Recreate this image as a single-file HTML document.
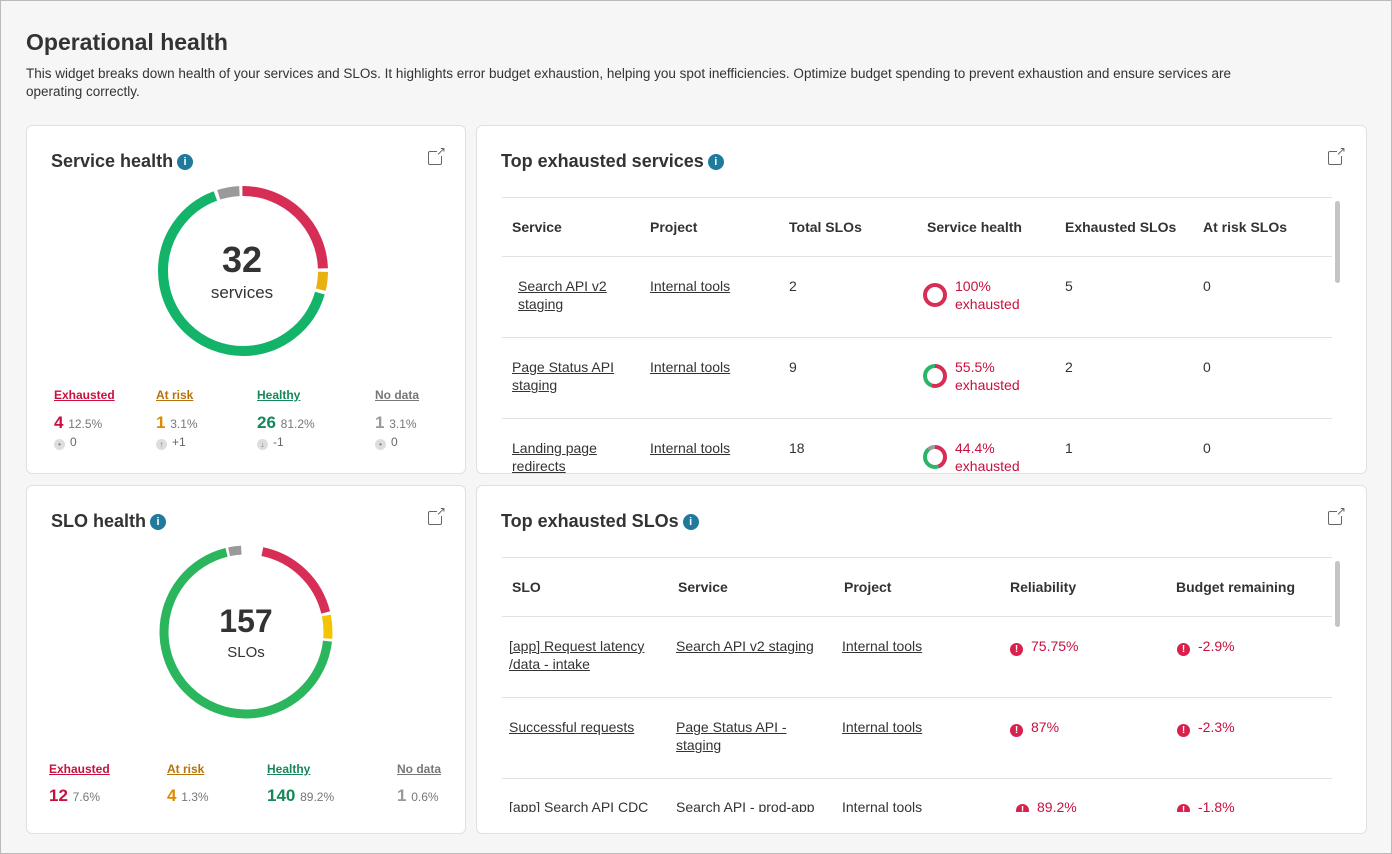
<!DOCTYPE html>
<html><head><style>
*{box-sizing:border-box;margin:0;padding:0}
body{width:1392px;height:854px;background:#f6f6f6;font-family:"Liberation Sans",sans-serif;color:#333;position:relative;overflow:hidden}
.frame{position:absolute;left:0;top:0;width:1392px;height:854px;border:1px solid #bbb;pointer-events:none}
.abs{position:absolute}
h1{position:absolute;left:26px;top:29px;font-size:23px;font-weight:bold;color:#333}
.desc{position:absolute;left:26px;top:65px;width:1350px;font-size:13.5px;line-height:18px;color:#333}
.card{position:absolute;background:#fff;border:1px solid #e0e0e0;border-radius:6px;overflow:hidden}
.title{position:absolute;font-size:18px;font-weight:bold;color:#333;white-space:nowrap}
.info{display:inline-block;width:16px;height:16px;border-radius:50%;background:#1f7a9c;color:#fff;font-size:11px;text-align:center;line-height:16px;vertical-align:2px;margin-left:4px;font-weight:bold}
.ext{position:absolute;width:14px;height:14px;border:1.5px solid #666;border-radius:2px}
.ext:after{content:"";position:absolute;right:-4px;top:-4px;width:8px;height:8px;background:#fff}
.ext:before{content:"↗";position:absolute;right:-5px;top:-8px;font-size:12px;color:#666;z-index:2}
.lg{position:absolute;font-size:12px;text-decoration:underline;font-weight:bold}
.lv{position:absolute;font-size:17px;font-weight:bold;white-space:nowrap}
.lv small{font-size:12px;color:#777;font-weight:normal}
.lc{position:absolute;font-size:12px;color:#666}
.lc i{display:inline-block;width:11px;height:11px;border-radius:50%;background:#ddd;vertical-align:-1px;margin-right:5px;font-style:normal;font-size:8px;text-align:center;line-height:11px;color:#777}
.hl{position:absolute;height:1px;background:#e2e2e2}
.th{position:absolute;font-size:14px;font-weight:bold;color:#333}
.td{position:absolute;font-size:14px;line-height:18px;color:#333}
.u{text-decoration:underline}
.red{color:#c8103e}
.ex{display:inline-block;width:13px;height:13px;border-radius:50%;background:#d9214e;color:#fff;font-size:10px;font-weight:bold;text-align:center;line-height:13px;margin-right:8px;vertical-align:-1px}
.sb{position:absolute;width:5px;background:#c4c4c4;border-radius:3px}
</style></head><body>
<div class="frame"></div>
<h1>Operational health</h1>
<div class="desc">This widget breaks down health of your services and SLOs. It highlights error budget exhaustion, helping you spot inefficiencies. Optimize budget spending to prevent exhaustion and ensure services are<br>operating correctly.</div>

<!-- Card 1 -->
<div class="card" style="left:26px;top:125px;width:440px;height:349px">
 <div class="title" style="left:24px;top:25px">Service health<span class="info">i</span></div>
 <div class="ext" style="left:401px;top:25px"></div>
 <svg class="abs" style="left:0;top:0" width="440" height="349">
  <g transform="translate(216,145) rotate(-90)">
   <circle r="80" fill="none" stroke="#d62e55" stroke-width="10" pathLength="100" stroke-dasharray="24.5 75.5" stroke-dashoffset="0"/>
   <circle r="80" fill="none" stroke="#e9b10e" stroke-width="10" pathLength="100" stroke-dasharray="3.6 96.4" stroke-dashoffset="-25.2"/>
   <circle r="80" fill="none" stroke="#13b36a" stroke-width="10" pathLength="100" stroke-dasharray="65 35" stroke-dashoffset="-29.5"/>
   <circle r="80" fill="none" stroke="#9a9a9a" stroke-width="10" pathLength="100" stroke-dasharray="4.2 95.8" stroke-dashoffset="-95.2"/>
  </g>
  <text x="215" y="146" text-anchor="middle" font-family="Liberation Sans" font-weight="bold" font-size="36" fill="#333">32</text>
  <text x="215" y="172" text-anchor="middle" font-family="Liberation Sans" font-size="17" fill="#333">services</text>
 </svg>
 <div class="lg" style="left:27px;top:262px;color:#c8103e">Exhausted</div>
 <div class="lg" style="left:129px;top:262px;color:#b5730a">At risk</div>
 <div class="lg" style="left:230px;top:262px;color:#17865a">Healthy</div>
 <div class="lg" style="left:348px;top:262px;color:#777">No data</div>
 <div class="lv" style="left:27px;top:287px;color:#c8103e">4 <small>12.5%</small></div>
 <div class="lv" style="left:129px;top:287px;color:#e08a00">1 <small>3.1%</small></div>
 <div class="lv" style="left:230px;top:287px;color:#17865a">26 <small>81.2%</small></div>
 <div class="lv" style="left:348px;top:287px;color:#999">1 <small>3.1%</small></div>
 <div class="lc" style="left:27px;top:309px"><i>•</i>0</div>
 <div class="lc" style="left:129px;top:309px"><i>↑</i>+1</div>
 <div class="lc" style="left:230px;top:309px"><i>↓</i>-1</div>
 <div class="lc" style="left:348px;top:309px"><i>•</i>0</div>
</div>

<!-- Card 2 -->
<div class="card" style="left:476px;top:125px;width:891px;height:349px">
 <div class="title" style="left:24px;top:25px">Top exhausted services<span class="info">i</span></div>
 <div class="ext" style="left:851px;top:25px"></div>
 <div class="hl" style="left:25px;top:71px;width:830px"></div>
 <div class="th" style="left:35px;top:93px">Service</div>
 <div class="th" style="left:173px;top:93px">Project</div>
 <div class="th" style="left:312px;top:93px">Total SLOs</div>
 <div class="th" style="left:450px;top:93px">Service health</div>
 <div class="th" style="left:588px;top:93px">Exhausted SLOs</div>
 <div class="th" style="left:726px;top:93px">At risk SLOs</div>
 <div class="hl" style="left:25px;top:130px;width:830px"></div>
 <div class="hl" style="left:25px;top:211px;width:830px"></div>
 <div class="hl" style="left:25px;top:292px;width:830px"></div>
 <div class="sb" style="left:858px;top:75px;height:82px"></div>

 <div class="td u" style="left:41px;top:151px">Search API v2<br>staging</div>
 <div class="td u" style="left:173px;top:151px">Internal tools</div>
 <div class="td" style="left:312px;top:151px">2</div>
 <div class="td red" style="left:478px;top:151px">100%<br>exhausted</div>
 <div class="td" style="left:588px;top:151px">5</div>
 <div class="td" style="left:726px;top:151px">0</div>

 <div class="td u" style="left:35px;top:232px">Page Status API<br>staging</div>
 <div class="td u" style="left:173px;top:232px">Internal tools</div>
 <div class="td" style="left:312px;top:232px">9</div>
 <div class="td red" style="left:478px;top:232px">55.5%<br>exhausted</div>
 <div class="td" style="left:588px;top:232px">2</div>
 <div class="td" style="left:726px;top:232px">0</div>

 <div class="td u" style="left:35px;top:313px">Landing page<br>redirects</div>
 <div class="td u" style="left:173px;top:313px">Internal tools</div>
 <div class="td" style="left:312px;top:313px">18</div>
 <div class="td red" style="left:478px;top:313px">44.4%<br>exhausted</div>
 <div class="td" style="left:588px;top:313px">1</div>
 <div class="td" style="left:726px;top:313px">0</div>

 <svg class="abs" style="left:446px;top:157px" width="26" height="200">
  <g transform="translate(12,12) rotate(-90)"><circle r="10" fill="none" stroke="#d62e55" stroke-width="4"/></g>
  <g transform="translate(12,93) rotate(-90)"><circle r="10" fill="none" stroke="#d62e55" stroke-width="4" pathLength="100" stroke-dasharray="55.5 44.5"/><circle r="10" fill="none" stroke="#2bb56a" stroke-width="4" pathLength="100" stroke-dasharray="44.5 55.5" stroke-dashoffset="-55.5"/></g>
  <g transform="translate(12,174) rotate(-90)"><circle r="10" fill="none" stroke="#d62e55" stroke-width="4" pathLength="100" stroke-dasharray="44.4 55.6"/><circle r="10" fill="none" stroke="#2bb56a" stroke-width="4" pathLength="100" stroke-dasharray="45 55" stroke-dashoffset="-44.4"/><circle r="10" fill="none" stroke="#9a9a9a" stroke-width="4" pathLength="100" stroke-dasharray="10.6 89.4" stroke-dashoffset="-89.4"/></g>
 </svg>
</div>

<!-- Card 3 -->
<div class="card" style="left:26px;top:485px;width:440px;height:349px">
 <div class="title" style="left:24px;top:25px">SLO health<span class="info">i</span></div>
 <div class="ext" style="left:401px;top:25px"></div>
 <svg class="abs" style="left:0;top:0" width="440" height="349">
  <g transform="translate(219,146) rotate(-90)">
   <circle r="82" fill="none" stroke="#d62e55" stroke-width="9" pathLength="100" stroke-dasharray="18 82" stroke-dashoffset="-3.2"/>
   <circle r="82" fill="none" stroke="#f5c400" stroke-width="9" pathLength="100" stroke-dasharray="4.5 95.5" stroke-dashoffset="-21.8"/>
   <circle r="82" fill="none" stroke="#2bb55c" stroke-width="9" pathLength="100" stroke-dasharray="69.5 30.5" stroke-dashoffset="-26.8"/>
   <circle r="82" fill="none" stroke="#9a9a9a" stroke-width="9" pathLength="100" stroke-dasharray="2.4 97.6" stroke-dashoffset="-96.8"/>
  </g>
  <text x="219" y="146" text-anchor="middle" font-family="Liberation Sans" font-weight="bold" font-size="32" fill="#333">157</text>
  <text x="219" y="171" text-anchor="middle" font-family="Liberation Sans" font-size="15" fill="#333">SLOs</text>
 </svg>
 <div class="lg" style="left:22px;top:276px;color:#c8103e">Exhausted</div>
 <div class="lg" style="left:140px;top:276px;color:#b5730a">At risk</div>
 <div class="lg" style="left:240px;top:276px;color:#17865a">Healthy</div>
 <div class="lg" style="left:370px;top:276px;color:#777">No data</div>
 <div class="lv" style="left:22px;top:300px;color:#c8103e">12 <small>7.6%</small></div>
 <div class="lv" style="left:140px;top:300px;color:#e08a00">4 <small>1.3%</small></div>
 <div class="lv" style="left:240px;top:300px;color:#17865a">140 <small>89.2%</small></div>
 <div class="lv" style="left:370px;top:300px;color:#999">1 <small>0.6%</small></div>
</div>

<!-- Card 4 -->
<div class="card" style="left:476px;top:485px;width:891px;height:349px">
 <div class="title" style="left:24px;top:25px">Top exhausted SLOs<span class="info">i</span></div>
 <div class="ext" style="left:851px;top:25px"></div>
 <div class="hl" style="left:25px;top:71px;width:830px"></div>
 <div class="th" style="left:35px;top:93px">SLO</div>
 <div class="th" style="left:201px;top:93px">Service</div>
 <div class="th" style="left:367px;top:93px">Project</div>
 <div class="th" style="left:533px;top:93px">Reliability</div>
 <div class="th" style="left:699px;top:93px">Budget remaining</div>
 <div class="hl" style="left:25px;top:130px;width:830px"></div>
 <div class="hl" style="left:25px;top:211px;width:830px"></div>
 <div class="hl" style="left:25px;top:292px;width:830px"></div>
 <div class="sb" style="left:858px;top:75px;height:66px"></div>
 <div style="position:absolute;left:0;top:0;width:891px;height:326px;overflow:hidden">
 <div class="td u" style="left:32px;top:151px">[app] Request latency<br>/data - intake</div>
 <div class="td u" style="left:199px;top:151px">Search API v2 staging</div>
 <div class="td u" style="left:365px;top:151px">Internal tools</div>
 <div class="td red" style="left:533px;top:151px"><span class="ex">!</span>75.75%</div>
 <div class="td red" style="left:700px;top:151px"><span class="ex">!</span>-2.9%</div>

 <div class="td u" style="left:32px;top:232px">Successful requests</div>
 <div class="td u" style="left:199px;top:232px">Page Status API -<br>staging</div>
 <div class="td u" style="left:365px;top:232px">Internal tools</div>
 <div class="td red" style="left:533px;top:232px"><span class="ex">!</span>87%</div>
 <div class="td red" style="left:700px;top:232px"><span class="ex">!</span>-2.3%</div>

 <div class="td u" style="left:32px;top:312px">[app] Search API CDC</div>
 <div class="td u" style="left:199px;top:312px">Search API - prod-app</div>
 <div class="td u" style="left:365px;top:312px">Internal tools</div>
 <div class="td red" style="left:539px;top:312px"><span class="ex">!</span>89.2%</div>
 <div class="td red" style="left:700px;top:312px"><span class="ex">!</span>-1.8%</div>
 </div>
</div>
</body></html>
